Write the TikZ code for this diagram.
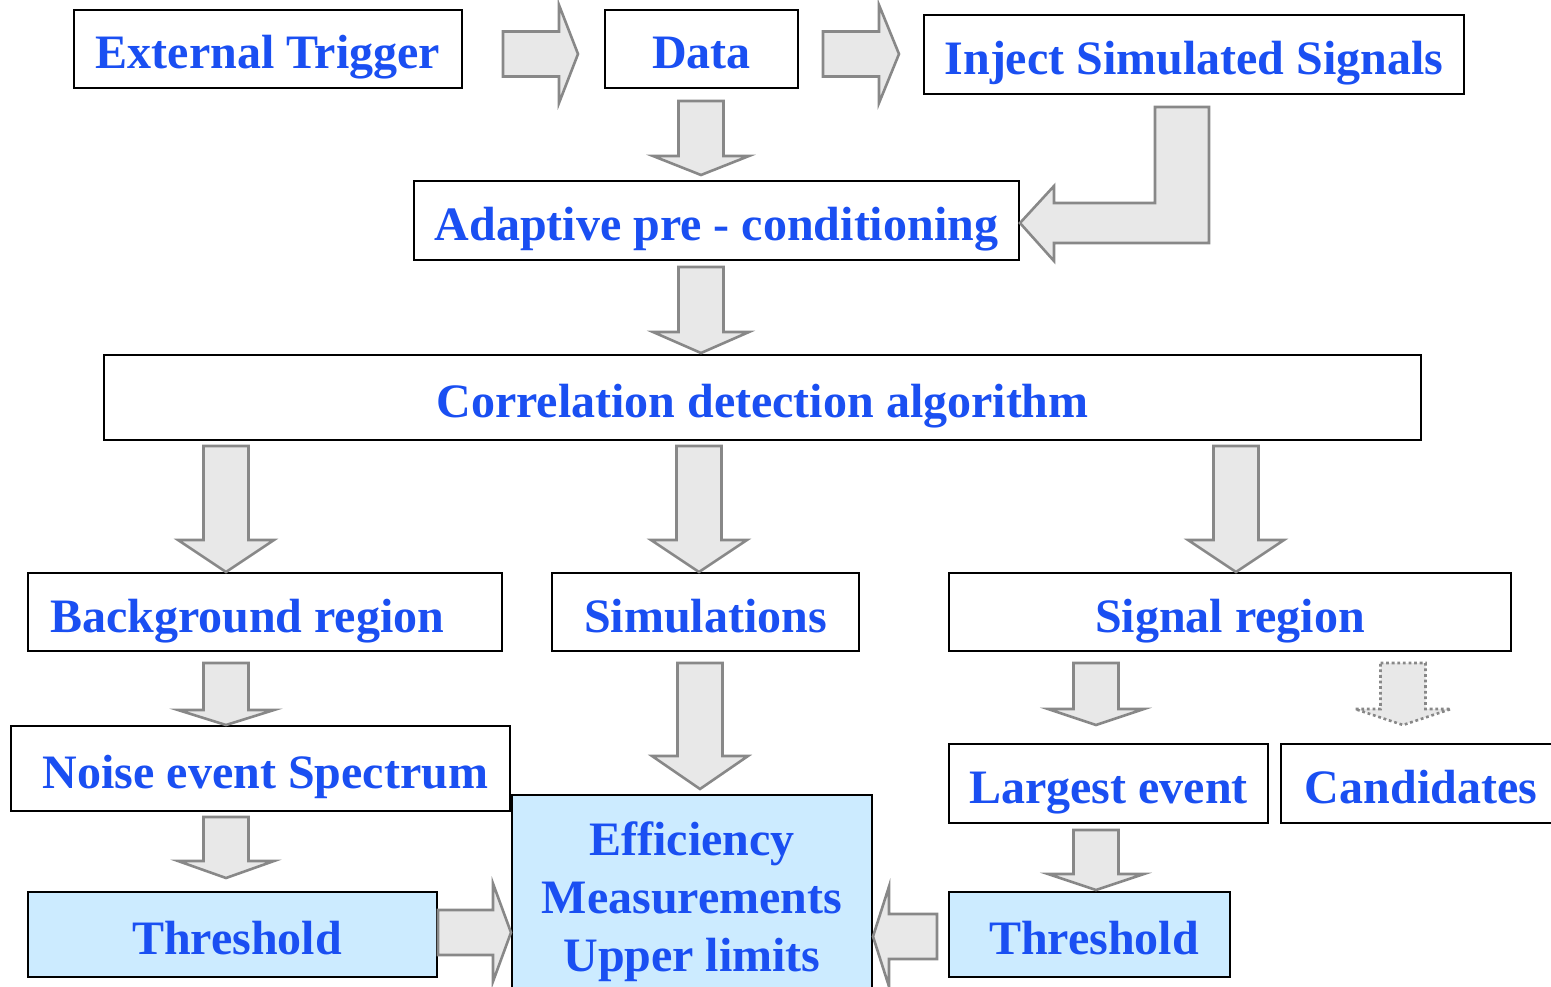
\documentclass[tikz,border=0pt]{standalone}
\usepackage{fontspec}
\setmainfont{Liberation Serif}
\usetikzlibrary{calc}
\definecolor{TitleBlue}{HTML}{1A4FF2}
\definecolor{ResultFill}{HTML}{CCEBFF}
\definecolor{ArrowFill}{HTML}{E8E8E8}
\definecolor{ArrowLine}{HTML}{888888}
\tikzset{
  boxbase/.style={rectangle,draw=black,line width=2pt,fill=white,text=TitleBlue,
    font=\fontsize{48}{58}\selectfont\bfseries,inner sep=0pt},
  box/.style={boxbase,text height=42pt,text depth=2pt},
  result/.style={box,fill=ResultFill},
  blk/.style={draw=ArrowLine,fill=ArrowFill,line width=2.6pt,line join=miter},
  blkdot/.style={blk,dash pattern=on 2.8pt off 2.8pt}}
% block arrows: #2 tail point, #3 gives the tip, #4 head length
\newcommand{\blkdown}[4][]{%
  \draw[blk,#1] let \p1=#2, \p2=#3 in
    (\x1-22.5pt,\y1) -- (\x1+22.5pt,\y1) -- (\x1+22.5pt,\y2+#4) -- (\x1+48pt,\y2+#4)
    -- (\x1,\y2) -- (\x1-48pt,\y2+#4) -- (\x1-22.5pt,\y2+#4) -- cycle;}
\newcommand{\blkright}[4][]{%
  \draw[blk,#1] let \p1=#2, \p2=#3 in
    (\x1,\y1+22.5pt) -- (\x2-#4,\y1+22.5pt) -- (\x2-#4,\y1+49pt) -- (\x2,\y1)
    -- (\x2-#4,\y1-49pt) -- (\x2-#4,\y1-22.5pt) -- (\x1,\y1-22.5pt) -- cycle;}
\newcommand{\blkleft}[4][]{%
  \draw[blk,#1] let \p1=#2, \p2=#3 in
    (\x1,\y1+22.5pt) -- (\x2+#4,\y1+22.5pt) -- (\x2+#4,\y1+50pt) -- (\x2,\y1)
    -- (\x2+#4,\y1-50pt) -- (\x2+#4,\y1-22.5pt) -- (\x1,\y1-22.5pt) -- cycle;}

\begin{document}
\begin{tikzpicture}[x=1pt,y=1pt]
\path[use as bounding box] (0,0) rectangle (1551,-987);
\clip (0,0) rectangle (1551,-987);

% top row
\node[box,minimum width=388pt,minimum height=78pt] (trigger) at (268,-49) {External Trigger};
\node[box,minimum width=193pt,minimum height=78pt] (data) at (701.5,-49) {Data};
\node[box,minimum width=540pt,minimum height=79pt] (inject) at (1194,-54.5) {Inject Simulated Signals};
\node[box,minimum width=605pt,minimum height=79pt] (adapt) at (716.5,-220.5) {Adaptive pre - conditioning};
\node[box,minimum width=1317pt,minimum height=85pt] (corr) at (762.5,-397.5) {Correlation detection algorithm};

% three branches
\node[box,minimum height=78pt,text width=430pt,inner xsep=22pt,align=flush left] (bkg) at (265,-612) {Background region};
\node[box,minimum width=307pt,minimum height=78pt] (sims) at (705.5,-612) {Simulations};
\node[box,minimum width=562pt,minimum height=78pt] (signal) at (1230,-612) {Signal region};
\node[box,minimum height=85pt,text width=455pt,inner xsep=22pt,align=flush right] (noise) at (260.5,-768.5) {Noise event Spectrum};
\node[box,minimum width=319pt,minimum height=79pt] (largest) at (1108.5,-783.5) {Largest event};
\node[box,minimum width=280pt,minimum height=79pt] (cand) at (1421,-783.5) {Candidates};

% results
\node[result,minimum height=85pt,text width=219pt,inner xsep=95pt,align=flush right] (thrL) at (232.5,-934.5) {Threshold};
\node[result,minimum height=85pt,text width=219pt,inner xsep=31pt,align=flush right] (thrR) at (1089.5,-934.5) {Threshold};
\node[boxbase,fill=ResultFill,align=center,minimum width=360pt,minimum height=213pt] (eff) at (692,-901.5)
  {Efficiency\\Measurements\\Upper limits};

% flow
\blkright{($(trigger.east)+(40,-5)$)}{($(data.west)+(-26,-5)$)}{19pt}
\blkright{($(data.east)+(24,-5)$)}{($(inject.west)+(-24,0)$)}{20pt}
\blkdown{($(data.south)+(-0.5,-12)$)}{($(adapt.north)+(0,5)$)}{19pt}
\draw[blk] let \p1=($(inject.south)+(-12,-12)$), \p2=($(adapt.east)+(0,-2.5)$) in
  (\x1-27pt,\y1) -- (\x1+27pt,\y1) -- (\x1+27pt,\y2-20pt) -- (\x2+34pt,\y2-20pt)
  -- (\x2+34pt,\y2-38pt) -- (\x2,\y2) -- (\x2+34pt,\y2+37pt) -- (\x2+34pt,\y2+20pt)
  -- (\x1-27pt,\y2+20pt) -- cycle;
\blkdown{($(adapt.south -| data.south)+(-0.5,-6)$)}{($(corr.north)+(0,1)$)}{21pt}

\blkdown{($(corr.south -| bkg.north)+(-39,-5)$)}{(bkg.north)}{32pt}
\blkdown{($(corr.south -| sims.north)+(-6.5,-5)$)}{(sims.north)}{32pt}
\blkdown{($(corr.south -| signal.north)+(6,-5)$)}{(signal.north)}{32pt}

\blkdown{($(bkg.south)+(-39,-11)$)}{(noise.north)}{15pt}
\blkdown{($(noise.south -| thrL.north)+(-6.5,-5)$)}{($(thrL.north)+(0,13)$)}{17pt}
\blkdown{($(sims.south)+(-5.5,-11)$)}{($(eff.north)+(0,5)$)}{33pt}
\blkdown{($(signal.south -| largest.north)+(-12.5,-11)$)}{($(largest.north)+(0,18)$)}{16pt}
\blkdown[blkdot]{($(signal.south -| cand.north)+(-18,-11)$)}{($(cand.north)+(0,18)$)}{16pt}
\blkdown{($(largest.south)+(-12.5,-6)$)}{($(thrR.north)+(0,1)$)}{16pt}

\blkright{($(thrL.east)+(0,2)$)}{(eff.west)}{18pt}
\blkleft{($(thrR.west)+(-11,-2)$)}{(eff.east)}{16pt}
\end{tikzpicture}
\end{document}
